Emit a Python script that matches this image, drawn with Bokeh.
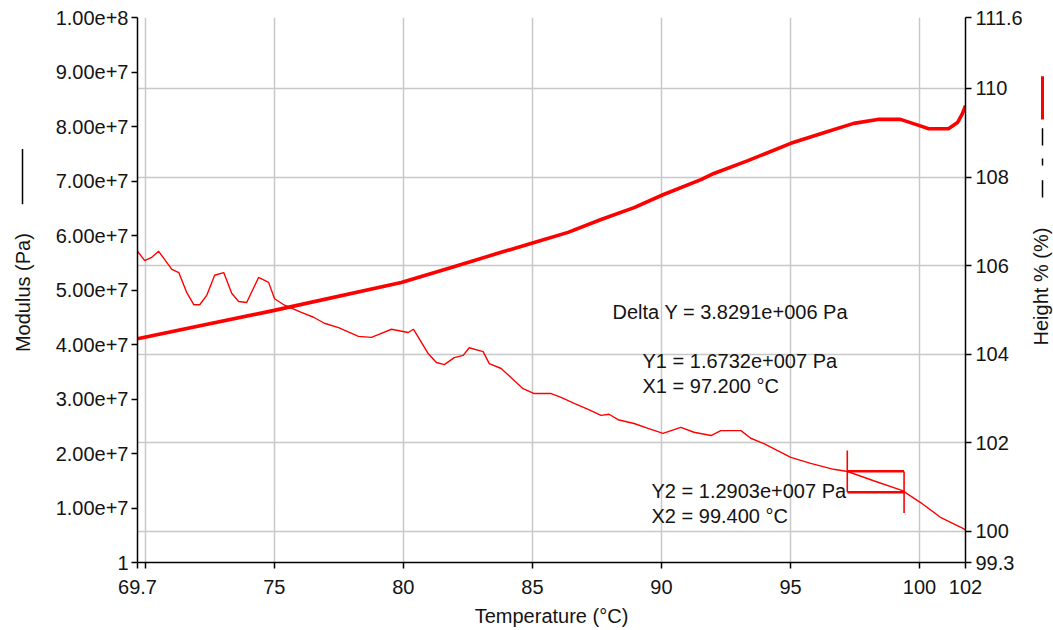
import math
from bokeh.plotting import figure
from bokeh.layouts import row
from bokeh.models import (Range1d, LinearAxis, FixedTicker, CustomJSTickFormatter,
                          Grid, Label)
from bokeh.core.properties import value
from bokeh.embed import file_html
from bokeh.resources import INLINE

# ---------------- data ----------------
temp_mod = [69.7, 69.98, 70.25, 70.52, 70.72, 71.03, 71.30, 71.61, 71.88, 72.11,
            72.38, 72.69, 73.04, 73.35, 73.62, 73.93, 74.39, 74.78, 75.01, 75.40,
            76.05, 76.52, 76.94, 77.49, 78.26, 78.76, 79.03, 79.54, 80.19, 80.39,
            80.70, 80.97, 81.28, 81.59, 81.97, 82.32, 82.55, 83.09, 83.33, 83.79,
            84.18, 84.64, 85.07, 85.73, 86.11, 86.62, 87.16, 87.66, 87.97, 88.32,
            88.94, 89.48, 90.06, 90.75, 91.26, 91.92, 92.30, 93.08, 93.46, 93.97,
            95.01, 95.78, 96.67, 97.21, 98.22, 99.34, 100.04, 100.81, 101.70, 101.78]
modulus = [5.71e7, 5.54e7, 5.60e7, 5.71e7, 5.58e7, 5.38e7, 5.32e7, 4.95e7, 4.73e7, 4.73e7,
           4.90e7, 5.27e7, 5.32e7, 4.94e7, 4.79e7, 4.77e7, 5.23e7, 5.14e7, 4.84e7, 4.72e7,
           4.59e7, 4.50e7, 4.39e7, 4.31e7, 4.15e7, 4.13e7, 4.18e7, 4.28e7, 4.22e7, 4.28e7,
           4.04e7, 3.83e7, 3.67e7, 3.63e7, 3.76e7, 3.80e7, 3.94e7, 3.87e7, 3.65e7, 3.56e7,
           3.39e7, 3.19e7, 3.10e7, 3.10e7, 3.03e7, 2.92e7, 2.81e7, 2.70e7, 2.72e7, 2.62e7,
           2.55e7, 2.46e7, 2.37e7, 2.48e7, 2.39e7, 2.33e7, 2.42e7, 2.42e7, 2.28e7, 2.18e7,
           1.93e7, 1.82e7, 1.71e7, 1.67e7, 1.50e7, 1.32e7, 1.10e7, 0.83e7, 0.62e7, 0.60e7]

temp_h = [69.7, 75.0, 79.92, 81.86, 83.79, 85.07, 86.38, 87.66, 88.94, 90.06,
          91.53, 92.03, 93.35, 95.01, 96.29, 97.45, 98.38, 99.26, 100.0, 100.35,
          101.12, 101.47, 101.66, 101.78]
height = [104.35, 104.99, 105.62, 105.96, 106.30, 106.52, 106.75, 107.04, 107.31, 107.60,
          107.94, 108.08, 108.37, 108.76, 109.00, 109.21, 109.30, 109.30, 109.16, 109.09,
          109.09, 109.23, 109.43, 109.61]

# cursor readings
cur_x = [97.2, 99.4]
cur_y = [1.6732e7, 1.2903e7]
delta_text = "Delta Y = 3.8291e+006 Pa"
cur1_texts = ["Y1 = 1.6732e+007 Pa", "X1 = 97.200 °C"]
cur2_texts = ["Y2 = 1.2903e+007 Pa", "X2 = 99.400 °C"]

# axes
x_range_vals = (69.7, 101.78)
left_range_vals = (0, 1e8)
right_range_vals = (99.3, 111.6)
x_ticks = [69.7, 70, 75, 80, 85, 90, 95, 100, 101.78]
x_labels = ["69.7", "", "75", "80", "85", "90", "95", "100", "102"]
left_ticks = [0, 1e7, 2e7, 3e7, 4e7, 5e7, 6e7, 7e7, 8e7, 9e7, 1e8]
left_labels = ["1", "1.00e+7", "2.00e+7", "3.00e+7", "4.00e+7", "5.00e+7",
               "6.00e+7", "7.00e+7", "8.00e+7", "9.00e+7", "1.00e+8"]
right_ticks = [99.3, 100, 102, 104, 106, 108, 110, 111.6]
right_labels = ["99.3", "100", "102", "104", "106", "108", "110", "111.6"]

x_title = "Temperature (°C)"
left_title = "Modulus (Pa)"
right_title = "Height % (%)"

# ---------------- layout (page pixels) ----------------
W, H = 1053, 630
LEFT_W, RIGHT_W = 40, 28
FL, FR, FT, FB = 137, 965, 17, 562


def xd(px):
    return x_range_vals[0] + (px - FL) * (x_range_vals[1] - x_range_vals[0]) / (FR - FL)


def yd(py):
    return left_range_vals[0] + (FB - py) * (left_range_vals[1] - left_range_vals[0]) / (FB - FT)


FONT = "Liberation Sans"
FS = "20px"
TXT = "#141414"
RED = "#ff0000"

JS = """
for (let i = 0; i < tvals.length; i++) {
  if (Math.abs(tick - tvals[i]) <= 1e-6 * Math.max(1, Math.abs(tvals[i]))) return tlabels[i];
}
return "";
"""

main_w = W - LEFT_W - RIGHT_W
p = figure(width=main_w, height=H, output_backend="svg", toolbar_location=None,
           x_range=Range1d(*x_range_vals), y_range=Range1d(*left_range_vals),
           min_border_left=FL - LEFT_W, min_border_right=(W - RIGHT_W) - FR,
           min_border_top=FT, min_border_bottom=H - FB)
p.extra_y_ranges = {"h": Range1d(*right_range_vals)}
p.outline_line_color = None
p.background_fill_color = "white"
p.border_fill_color = "white"

right_axis = LinearAxis(y_range_name="h")
p.add_layout(right_axis, "right")


def style_axis(ax, ticks, labels, standoff):
    ax.ticker = FixedTicker(ticks=ticks)
    ax.formatter = CustomJSTickFormatter(args=dict(tvals=ticks, tlabels=labels), code=JS)
    ax.axis_line_color = "black"
    ax.axis_line_width = 1.5
    ax.major_tick_line_color = "black"
    ax.major_tick_line_width = 1.5
    ax.major_tick_in = 0
    ax.major_tick_out = 6
    ax.minor_tick_line_color = None
    ax.major_label_text_font = FONT
    ax.major_label_text_font_size = FS
    ax.major_label_text_color = TXT
    ax.major_label_standoff = standoff


style_axis(p.xaxis[0], x_ticks, x_labels, 11)
style_axis(p.yaxis[0], left_ticks, left_labels, 3)
style_axis(right_axis, right_ticks, right_labels, 4)
p.yaxis[0].major_label_orientation = "horizontal"
right_axis.major_label_orientation = "horizontal"
p.xaxis[0].axis_label = x_title
p.xaxis[0].axis_label_text_font = FONT
p.xaxis[0].axis_label_text_font_size = FS
p.xaxis[0].axis_label_text_font_style = "normal"
p.xaxis[0].axis_label_text_color = TXT
p.xaxis[0].axis_label_standoff = 8

p.xgrid.grid_line_color = "#c8c8c8"
p.xgrid.grid_line_width = 1.5
p.ygrid.visible = False
hgrid = Grid(dimension=1, ticker=FixedTicker(ticks=right_ticks), y_range_name="h",
             grid_line_color="#c8c8c8", grid_line_width=1.5)
p.add_layout(hgrid)

# curves
p.line(temp_h, height, y_range_name="h", line_color=RED, line_width=3.6)
p.line(temp_mod, modulus, line_color=RED, line_width=1.4)

# cursor box
half = 3.8e6
p.segment(x0=cur_x, y0=[cur_y[0] - half, cur_y[1] - half],
          x1=cur_x, y1=[cur_y[0] + half, cur_y[1] + half],
          line_color=RED, line_width=1.6)
p.segment(x0=[cur_x[0], cur_x[0]], y0=cur_y, x1=[cur_x[1], cur_x[1]], y1=cur_y,
          line_color=RED, line_width=2.4)


def lab(px, py, text):
    p.add_layout(Label(x=xd(px), y=yd(py), text=text, text_font=FONT, text_font_size=FS,
                       text_color=TXT, text_baseline="middle", text_align="left"))


lab(612, 311, delta_text)
lab(642, 360, cur1_texts[0])
lab(642, 385, cur1_texts[1])
lab(651, 490, cur2_texts[0])
lab(651, 515, cur2_texts[1])


# ---------------- side panels for the rotated axis titles ----------------
def panel(width, x0):
    f = figure(width=width, height=H, output_backend="svg", toolbar_location=None,
               x_range=Range1d(x0, x0 + width), y_range=Range1d(H, 0),
               x_axis_type=None, y_axis_type=None, min_border=0)
    f.outline_line_color = None
    f.background_fill_color = "white"
    f.border_fill_color = "white"
    return f


left = panel(LEFT_W, 0)
left.text(x=[22], y=[318], text=[left_title], angle=math.pi / 2, text_align="center",
          text_baseline="middle", text_font=value(FONT), text_font_size=FS, text_color=TXT)
left.segment(x0=[22], y0=[152], x1=[22], y1=[216], line_color="black", line_width=1.5)

right = panel(RIGHT_W, W - RIGHT_W)
right.text(x=[1040], y=[311], text=[right_title], angle=math.pi / 2, text_align="center",
           text_baseline="middle", text_font=value(FONT), text_font_size=FS, text_color=TXT)
right.segment(x0=[1042, 1042, 1042], y0=[188, 163, 128], x1=[1042, 1042, 1042],
              y1=[208, 171, 148], line_color="black", line_width=1.5)
right.segment(x0=[1042], y0=[68], x1=[1042], y1=[118], line_color=RED, line_width=3)

layout = row(left, p, right, spacing=0)
open("out.html", "w").write(file_html(layout, INLINE))
